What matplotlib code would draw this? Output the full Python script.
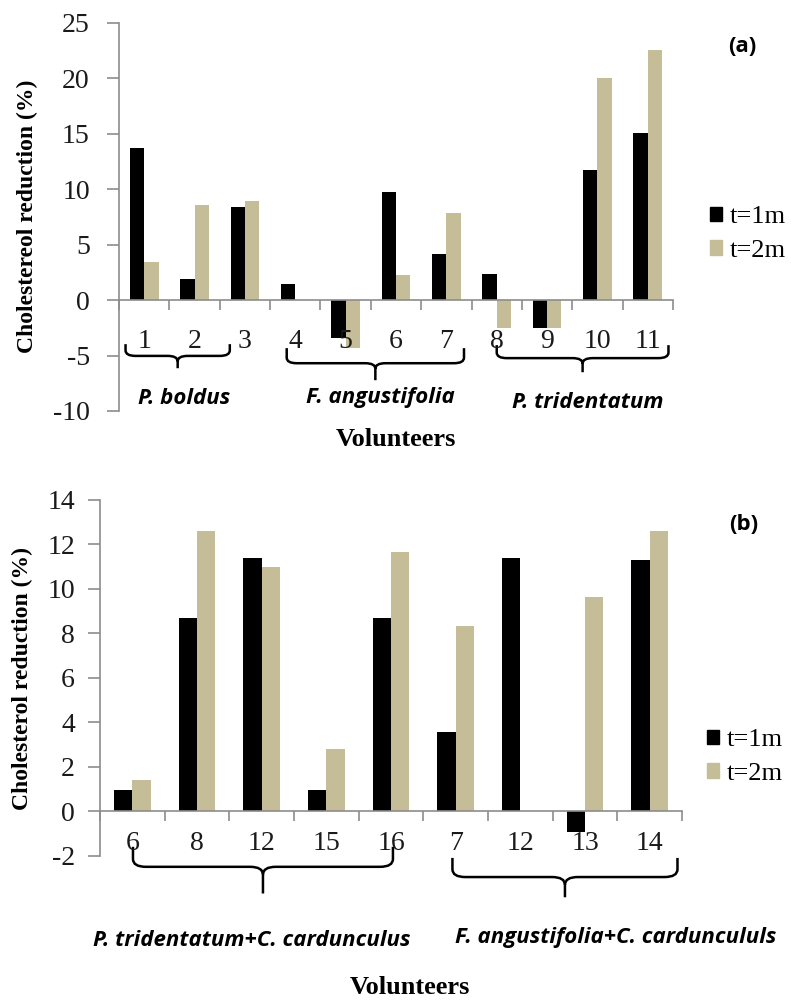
import matplotlib
matplotlib.use("Agg")
import matplotlib.pyplot as plt
from matplotlib.path import Path
from matplotlib.patches import PathPatch, Patch

# panel (a): single-plant treatments, volunteers 1-11
vol_a = ["1", "2", "3", "4", "5", "6", "7", "8", "9", "10", "11"]
a_1m = [13.7, 1.9, 8.4, 1.45, -3.4, 9.8, 4.2, 2.4, -2.5, 11.7, 15.1]
a_2m = [3.4, 8.6, 8.9, 0.0, -4.3, 2.3, 7.9, -2.5, -2.5, 20.0, 22.6]
groups_a = ["P. boldus", "F. angustifolia", "P. tridentatum"]

# panel (b): combined treatments with C. cardunculus
vol_b = ["6", "8", "12", "15", "16", "7", "12", "13", "14"]
b_1m = [0.95, 8.7, 11.4, 0.95, 8.7, 3.55, 11.4, -0.93, 11.3]
b_2m = [1.4, 12.6, 11.0, 2.8, 11.65, 8.35, 0.0, 9.65, 12.6]
groups_b = ["P. tridentatum+C. cardunculus", "F. angustifolia+C. carduncululs"]

series = ["t=1m", "t=2m"]
C1 = "#000000"
C2 = "#C4BD97"
AX_GREY = "#8c8c8c"
SERIF = "Liberation Serif"
SANS = ["Open Sans", "DejaVu Sans"]

W, H = 791, 1000
fig = plt.figure(figsize=(W / 100, H / 100), dpi=100)


def fx(px):
    return px / W


def fy(py):
    return 1 - py / H


def brace(ax, x0, x1, ytop, ymid, ytip, rx, ry):
    xm = (x0 + x1) / 2
    verts = [
        (x0, ytop), (x0, ymid + ry), (x0, ymid), (x0 + rx, ymid),
        (xm - rx, ymid), (xm, ymid), (xm, ymid - ry), (xm, ytip),
        (xm, ymid - ry), (xm, ymid), (xm + rx, ymid),
        (x1 - rx, ymid), (x1, ymid), (x1, ymid + ry), (x1, ytop),
    ]
    codes = [
        Path.MOVETO, Path.LINETO, Path.CURVE3, Path.CURVE3,
        Path.LINETO, Path.CURVE3, Path.CURVE3, Path.LINETO,
        Path.MOVETO, Path.CURVE3, Path.CURVE3,
        Path.LINETO, Path.CURVE3, Path.CURVE3, Path.LINETO,
    ]
    ax.add_patch(PathPatch(Path(verts, codes), fill=False, lw=1.8,
                           edgecolor="black", clip_on=False))


def bar_panel(rect, labels, v1, v2, ylim, yticks, xpad, ypad):
    ax = fig.add_axes(rect)
    n = len(labels)
    xs = list(range(n))
    w = 0.285
    ax.bar([x - w / 2 for x in xs], v1, width=w, color=C1, label=series[0])
    ax.bar([x + w / 2 for x in xs], v2, width=w, color=C2, label=series[1])
    ax.set_xlim(-0.5, n - 0.5)
    ax.set_ylim(*ylim)
    ax.set_yticks(yticks)
    ax.set_yticklabels([str(t) for t in yticks], fontfamily=SERIF, fontsize=20,
                       color="#1a1a1a")
    for s in ("top", "right"):
        ax.spines[s].set_visible(False)
    ax.spines["bottom"].set_position(("data", 0))
    for s in ("left", "bottom"):
        ax.spines[s].set_color(AX_GREY)
        ax.spines[s].set_linewidth(1.2)
    ax.tick_params(axis="y", direction="out", length=9, width=1.2,
                   color=AX_GREY, pad=ypad)
    ax.set_xticks(xs)
    ax.set_xticklabels(labels, fontfamily=SERIF, fontsize=20, color="#1a1a1a")
    ax.set_xticks([x - 0.5 for x in xs] + [n - 0.5], minor=True)
    ax.tick_params(axis="x", which="major", length=0, pad=xpad)
    ax.tick_params(axis="x", which="minor", direction="out", length=7,
                   width=1.2, color=AX_GREY)
    return ax


# ---- panel (a)
ax1 = bar_panel([fx(119), fy(411), fx(673) - fx(119), (411 - 23) / H],
                vol_a, a_1m, a_2m, (-10, 25), list(range(-10, 26, 5)), 21, 12)
brace(ax1, -0.37, 1.70, -3.97, -5.03, -6.14, 0.2, 0.5)
brace(ax1, 2.83, 6.35, -4.33, -5.69, -7.22, 0.2, 0.5)
brace(ax1, 7.0, 10.41, -4.06, -5.23, -6.5, 0.2, 0.5)

for txt, px, py in zip(groups_a, [184, 380, 588], [398, 398, 402]):
    fig.text(fx(px), fy(py), txt, ha="center", va="center", fontsize=16,
             fontfamily=SANS, fontweight="bold", fontstyle="italic")
fig.text(fx(396), fy(440), "Volunteers", ha="center", va="center",
         fontfamily=SERIF, fontweight="bold", fontsize=19)
fig.text(fx(27), fy(216), "Cholestereol reduction (%)", ha="center",
         va="center", rotation=90, fontfamily=SERIF, fontweight="bold",
         fontsize=17)
fig.text(fx(742), fy(46), "(a)", ha="center", va="center", fontsize=16,
         fontfamily=SANS, fontweight="bold")

# ---- panel (b)
ax2 = bar_panel([fx(100), fy(855.7), fx(682) - fx(100), (855.7 - 500) / H],
                vol_b, b_1m, b_2m, (-2, 14), list(range(-2, 15, 2)), 14, 9)
brace(ax2, 0.01, 4.03, -1.6, -2.5, -3.7, 0.2, 0.35)
brace(ax2, 4.95, 8.43, -2.1, -2.96, -3.87, 0.2, 0.35)

for txt, px, py in zip(groups_b, [252, 616], [940, 937]):
    fig.text(fx(px), fy(py), txt, ha="center", va="center", fontsize=16,
             fontfamily=SANS, fontweight="bold", fontstyle="italic")
fig.text(fx(410), fy(987), "Volunteers", ha="center", va="center",
         fontfamily=SERIF, fontweight="bold", fontsize=19)
fig.text(fx(22), fy(679), "Cholesterol reduction (%)", ha="center",
         va="center", rotation=90, fontfamily=SERIF, fontweight="bold",
         fontsize=17)
fig.text(fx(744), fy(525), "(b)", ha="center", va="center", fontsize=16,
         fontfamily=SANS, fontweight="bold")

# legends to the right of each panel
handles = [Patch(color=C1, label=series[0]), Patch(color=C2, label=series[1])]
for ax, (lx, ly) in ((ax1, (710, 234)), (ax2, (707, 757))):
    ax.legend(handles=handles, loc="center left",
              bbox_to_anchor=(fx(lx), fy(ly)), bbox_transform=fig.transFigure,
              frameon=False, prop={"family": SERIF, "size": 19},
              handlelength=0.45, handleheight=0.45, handletextpad=0.3,
              labelspacing=0.45, borderpad=0, borderaxespad=0)

fig.savefig("out.png", dpi=100)
